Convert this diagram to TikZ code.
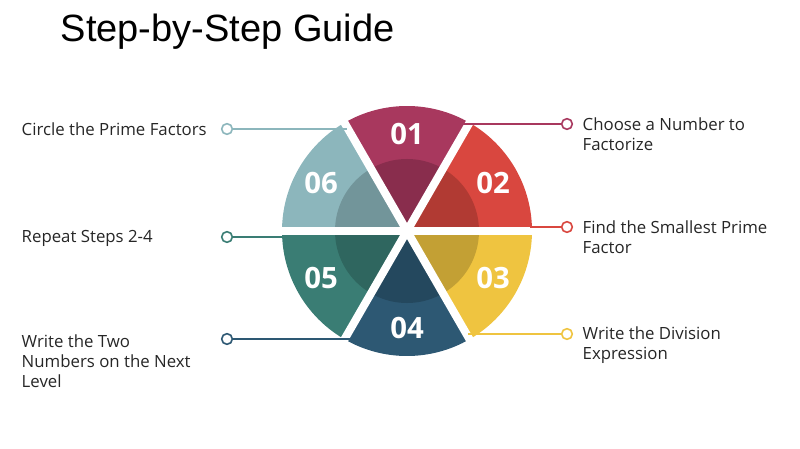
\documentclass[tikz,border=0pt]{standalone}
\usepackage{fontspec}
\setmainfont{Open Sans}
\newfontfamily\titlefont{Liberation Sans}
\begin{document}
\begin{tikzpicture}[x=0.75pt,y=-0.75pt,
  lab/.style={anchor=west,font=\fontsize{12.6}{15.2}\selectfont,align=left,text=black!85},
  num/.style={text=white,font=\bfseries\fontsize{22}{24}\selectfont},
  mk/.style={circle,draw,line width=1.2pt,fill=white,inner sep=0pt,minimum size=8pt},
  ln/.style={line width=1pt}]
\definecolor{cA}{HTML}{A8385E}\definecolor{cB}{HTML}{D9473F}\definecolor{cC}{HTML}{EFC440}
\definecolor{cD}{HTML}{2D5873}\definecolor{cE}{HTML}{3A7D74}\definecolor{cF}{HTML}{8CB6BC}
\useasboundingbox (0,0) rectangle (800,449);
\node[anchor=west,font=\titlefont\fontsize{28.5}{32}\selectfont] (title) at (56,32) {Step-by-Step Guide};
\coordinate (c) at (407,231);
\foreach \a/\col in {-120/cA,-60/cB,0/cC,60/cD,120/cE,180/cF}{
  \fill[\col] (c) -- ++(\a:125) arc[start angle=\a,end angle=\a+60,radius=125] -- cycle;}
\fill[black,opacity=0.18] (c) circle[radius=72];
\foreach \a in {0,60,120}{\draw[white,line width=6pt] (c) ++(\a:130) -- ++(\a+180:260);}
\node[num] (n1) at (407,134) {01};
\node[num] (n2) at (493,183) {02};
\node[num] (n3) at (493,278) {03};
\node[num] (n4) at (407,328) {04};
\node[num] (n5) at (321,278) {05};
\node[num] (n6) at (321,183) {06};
% right
\node[mk,draw=cA] (m1) at (567,124) {};
\coordinate (p1) at (463,124);
\draw[ln,cA] (p1) -- (m1);
\node[lab] (t1) at (578,134) {Choose a Number to\\Factorize};
\node[mk,draw=cB] (m2) at (567,227) {};
\coordinate (p2) at (530,227);
\draw[ln,cB] (p2) -- (m2);
\node[lab] (t2) at (578,237) {Find the Smallest Prime\\Factor};
\node[mk,draw=cC] (m3) at (567,334) {};
\coordinate (p3) at (468,334);
\draw[ln,cC] (p3) -- (m3);
\node[lab] (t3) at (578,345) {Write the Division\\Expression};
% left
\node[mk,draw=cF] (m6) at (227,129) {};
\coordinate (p6) at (347,129);
\draw[ln,cF] (m6) -- (p6);
\node[lab] (t6) at (17,129) {Circle the Prime Factors};
\node[mk,draw=cE] (m5) at (227,237) {};
\coordinate (p5) at (284,237);
\draw[ln,cE] (m5) -- (p5);
\node[lab] (t5) at (17,238) {Repeat Steps 2-4};
\node[mk,draw=cD] (m4) at (227,339) {};
\coordinate (p4) at (350,339);
\draw[ln,cD] (m4) -- (p4);
\node[lab] (t4) at (17,361) {Write the Two\\Numbers on the Next\\Level};
\end{tikzpicture}
\end{document}
